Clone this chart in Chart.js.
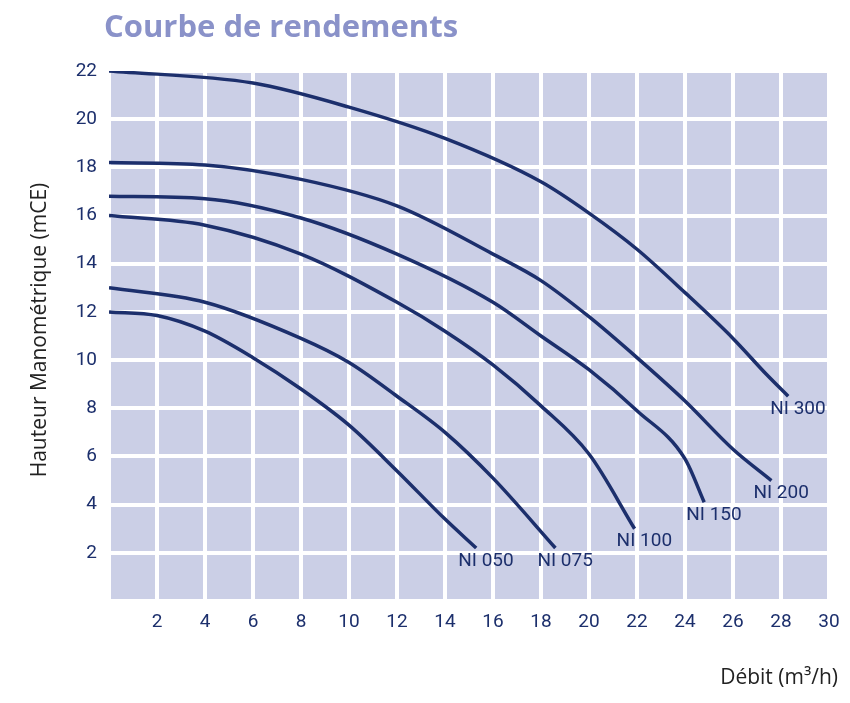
<!DOCTYPE html>
<html><head><meta charset="utf-8">
<script src="https://cdn.jsdelivr.net/npm/chart.js@4"></script>
<style>html,body{margin:0;padding:0;background:#fff}#w{width:850px;height:703px}</style>
</head><body><div id="w"><canvas id="c"></canvas></div>
<script>
const labels = ["NI 050","NI 075","NI 100","NI 150","NI 200","NI 300"];
const ni050_x = [0,2,4,6,8,10,12,14,15.3];
const ni050_y = [12.0,11.85,11.2,10.1,8.8,7.3,5.4,3.4,2.2];
const ni075_x = [0,4,8,10,12,14,16,18.6];
const ni075_y = [13.0,12.4,10.9,9.9,8.5,7.0,5.1,2.2];
const ni100_x = [0,4,8,12,14,16,18,20,21.9];
const ni100_y = [16.0,15.6,14.4,12.4,11.2,9.8,8.1,6.1,3.0];
const ni150_x = [0,4,8,12,16,18,20,22,24,24.8];
const ni150_y = [16.8,16.7,15.9,14.4,12.4,11.0,9.6,7.9,5.9,4.1];
const ni200_x = [0,4,8,12,16,18,20,22,24,26,27.6];
const ni200_y = [18.2,18.1,17.5,16.4,14.4,13.3,11.8,10.1,8.3,6.3,5.0];
const ni300_x = [0,6,10,14,18,20,22,24,26,27.4,28.3];
const ni300_y = [22,21.5,20.5,19.2,17.4,16.1,14.6,12.8,10.9,9.4,8.5];
const xs=[ni050_x,ni075_x,ni100_x,ni150_x,ni200_x,ni300_x];
const ys=[ni050_y,ni075_y,ni100_y,ni150_y,ni200_y,ni300_y];
const navy="#1c2f6c";
const datasets = labels.map((l,i)=>({label:l,data:xs[i].map((x,j)=>({x:x,y:ys[i][j]})),
  borderColor:navy,borderWidth:3.5,pointRadius:0,showLine:true,tension:0.4,cubicInterpolationMode:'monotone'}));
const deco={id:'deco',
 beforeDraw(c){const a=c.chartArea,g=c.ctx;g.save();g.fillStyle="#cbcfe6";g.fillRect(a.left,a.top,a.right-a.left,a.bottom-a.top);g.restore();},
 afterDraw(c){const g=c.ctx,xs_=c.scales.x,ys_=c.scales.y;g.save();
  g.fillStyle=navy;g.font="19px Roboto";g.textBaseline="middle";g.textAlign="left";
  c.data.datasets.forEach(d=>{const p=d.data[d.data.length-1];g.fillText(d.label,xs_.getPixelForValue(p.x)-18,ys_.getPixelForValue(p.y)+13);});
  g.fillStyle="#8a92c9";g.font="bold 31px 'Open Sans'";g.textBaseline="middle";g.fillText("Courbe de rendements",104,28);
  g.fillStyle="#222";g.font="21px 'Open Sans'";g.textAlign="right";g.fillText("Débit (m³/h)",838,678);
  g.translate(40,330);g.rotate(-Math.PI/2);g.textAlign="center";g.fillText("Hauteur Manométrique (mCE)",0,0);
  g.restore();}};
new Chart(document.getElementById('c'),{type:'scatter',data:{datasets},plugins:[deco],
 options:{responsive:true,maintainAspectRatio:false,animation:false,
  layout:{padding:{left:49,right:21,top:71,bottom:62}},
  plugins:{legend:{display:false},tooltip:{enabled:false}},
  scales:{
   x:{min:0,max:30,border:{display:false},afterFit(s){s.height=40;},
      grid:{color:"#fff",lineWidth:4,drawTicks:false},
      ticks:{stepSize:2,padding:10,color:navy,font:{size:19,family:"Roboto"},callback:v=>v===0?'':v}},
   y:{min:0,max:22,border:{display:false},afterFit(s){s.width=60;},
      grid:{color:"#fff",lineWidth:4,drawTicks:false},
      ticks:{stepSize:2,padding:12,color:navy,font:{size:19,family:"Roboto"},callback:v=>v===0?'':v}}}}});
</script></body></html>
